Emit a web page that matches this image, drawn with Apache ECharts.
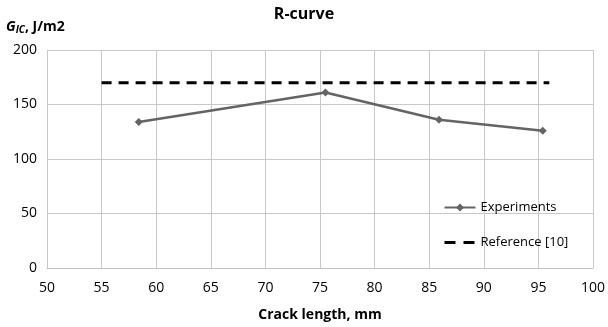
<!DOCTYPE html>
<html>
<head>
<meta charset="utf-8">
<title>R-curve</title>
<script src="https://cdn.jsdelivr.net/npm/echarts@6/dist/echarts.min.js"></script>
<style>
  body { margin: 0; background: #fff; }
  #main { width: 608px; height: 327px; }
</style>
</head>
<body>
<div id="main"></div>
<script>
var crackLength = [58.4, 75.5, 85.9, 95.4];
var giC = [134, 161, 136, 126];
var refX = [55, 96];
var refY = [170, 170];

var font = '"Open Sans", "Liberation Sans", sans-serif';
var chart = echarts.init(document.getElementById('main'));
chart.setOption({
  animation: false,
  textStyle: { fontFamily: font },
  title: {
    text: 'R-curve', left: 'center', top: 1,
    textStyle: { fontSize: 16, fontWeight: 'bold', color: '#000', fontFamily: font }
  },
  graphic: [{
    type: 'text', left: 6, top: 20,
    style: {
      text: '{g|G}{s|IC}{t|, J/m2}',
      rich: {
        g: { fontSize: 14, fontWeight: 'bold', fontStyle: 'italic', fill: '#000', fontFamily: font },
        s: { fontSize: 10, fontWeight: 'bold', fontStyle: 'italic', fill: '#000', verticalAlign: 'bottom', padding: [6, 0, 0, 0], fontFamily: font },
        t: { fontSize: 14, fontWeight: 'bold', fill: '#000', fontFamily: font }
      }
    }
  }],
  legend: {
    orient: 'vertical', left: 443, top: 201, itemGap: 22, padding: 0,
    itemWidth: 31, itemHeight: 10,
    textStyle: { fontSize: 13, color: '#000', fontFamily: font },
    data: ['Experiments', {
      name: 'Reference [10]', itemStyle: { opacity: 0 },
      lineStyle: { width: 3, type: [11, 8] }
    }]
  },
  grid: { left: 47, right: 15, top: 50, bottom: 57 },
  xAxis: {
    type: 'value', min: 50, max: 100, interval: 5,
    name: 'Crack length, mm', nameLocation: 'middle', nameGap: 40,
    nameTextStyle: { fontSize: 14, fontWeight: 'bold', color: '#000' },
    axisLine: { lineStyle: { color: '#bfbfbf' } },
    axisTick: { show: false },
    axisLabel: { fontSize: 14, color: '#000', margin: 13 },
    splitLine: { show: true, lineStyle: { color: '#c8c8c8' } }
  },
  yAxis: {
    type: 'value', min: 0, max: 200, interval: 50,
    axisLine: { show: false },
    axisTick: { show: false },
    axisLabel: { fontSize: 14, color: '#000', margin: 10 },
    splitLine: { lineStyle: { color: '#c8c8c8' } }
  },
  series: [{
    name: 'Experiments', type: 'line',
    data: crackLength.map(function (x, i) { return [x, giC[i]]; }),
    symbol: 'diamond', symbolSize: 8,
    lineStyle: { color: '#646464', width: 2.5 },
    itemStyle: { color: '#646464' }
  }, {
    name: 'Reference [10]', type: 'line',
    data: refX.map(function (x, i) { return [x, refY[i]]; }),
    symbol: 'none',
    lineStyle: { color: '#000', width: 3, type: [10, 7] },
    itemStyle: { color: '#000' }
  }]
});
</script>
</body>
</html>
